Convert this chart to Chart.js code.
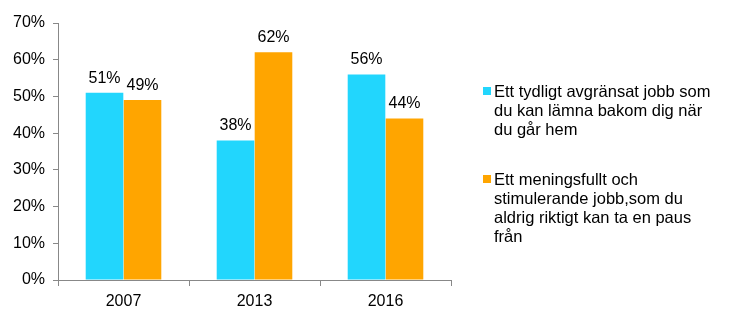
<!DOCTYPE html>
<html>
<head>
<meta charset="utf-8">
<script src="https://cdn.jsdelivr.net/npm/chart.js@4"></script>
<style>
  html, body { margin: 0; padding: 0; background: #fff; }
  #wrap { width: 735px; height: 322px; }
</style>
</head>
<body>
<div id="wrap"><canvas id="myChart" width="735" height="322"></canvas></div>
<script>
// data
var years = ['2007', '2013', '2016'];
var avgransat = [51, 38, 56];
var meningsfullt = [49, 62, 44];
var legendLines = [
    ['Ett tydligt avgränsat jobb som', 'du kan lämna bakom dig när', 'du går hem'],
    ['Ett meningsfullt och', 'stimulerande jobb,som du', 'aldrig riktigt kan ta en paus', 'från']
];

var FONT = '"Liberation Sans", Arial, sans-serif';
Chart.defaults.font.family = FONT;
Chart.defaults.font.size = 16;
Chart.defaults.color = '#000';

// percent labels above the bars
var barLabels = {
    id: 'barLabels',
    afterDatasetsDraw: function(chart) {
        var ctx = chart.ctx;
        ctx.save();
        ctx.font = '16px ' + FONT;
        ctx.fillStyle = '#000';
        ctx.textAlign = 'center';
        ctx.textBaseline = 'alphabetic';
        chart.data.datasets.forEach(function(ds, i) {
            chart.getDatasetMeta(i).data.forEach(function(bar, j) {
                ctx.fillText(ds.data[j] + '%', bar.x, bar.y - 10);
            });
        });
        ctx.restore();
    }
};

// legend on the right with wrapped labels
var sideLegend = {
    id: 'sideLegend',
    afterDraw: function(chart) {
        var ctx = chart.ctx;
        ctx.save();
        ctx.font = '16.5px ' + FONT;
        ctx.textBaseline = 'middle';
        ctx.textAlign = 'left';
        var starts = [92, 180];
        chart.data.datasets.forEach(function(ds, i) {
            var y0 = starts[i];
            ctx.fillStyle = ds.backgroundColor;
            ctx.fillRect(483, y0 - 5, 8, 8);
            ctx.fillStyle = '#000';
            legendLines[i].forEach(function(line, k) {
                ctx.fillText(line, 494, y0 + k * 19);
            });
        });
        ctx.restore();
    }
};

var ctx = document.getElementById('myChart');
var chart = new Chart(ctx, {
    type: 'bar',
    data: {
        labels: years,
        datasets: [{
            label: legendLines[0].join(' '),
            data: avgransat,
            backgroundColor: '#22D6FD', //cyan
            categoryPercentage: 0.58,
            barPercentage: 0.99
        }, {
            label: legendLines[1].join(' '),
            data: meningsfullt,
            backgroundColor: '#FFA500', //orange
            categoryPercentage: 0.58,
            barPercentage: 0.99
        }]
    },
    plugins: [barLabels, sideLegend],
    options: {
        responsive: false,
        animation: false,
        layout: { padding: { top: 23, right: 284, left: 0, bottom: 0 } },
        plugins: {
            legend: { display: false },
            tooltip: { enabled: false }
        },
        scales: {
            x: {
                grid: { drawOnChartArea: false, color: '#888', tickLength: 6, offset: true },
                border: { color: '#888' },
                ticks: { padding: 6, font: { size: 16 } },
                afterFit: function(s) { s.height = 42; }
            },
            y: {
                min: 0,
                max: 70,
                ticks: { stepSize: 10, padding: 8, callback: function(v) { return v + '%'; } },
                grid: { drawOnChartArea: false, color: '#888', tickLength: 5 },
                border: { color: '#888' },
                afterFit: function(s) { s.width = 58; }
            }
        }
    }
});
</script>
</body>
</html>
